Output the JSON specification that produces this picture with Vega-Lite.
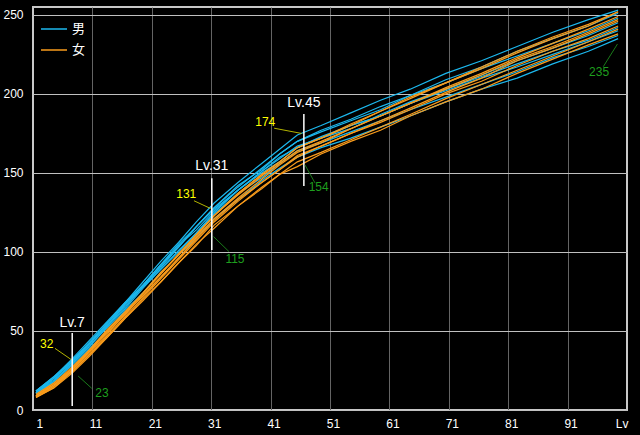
{
  "$schema": "https://vega.github.io/schema/vega-lite/v6.json",
  "width": 594,
  "height": 403,
  "autosize": {"type": "none"},
  "padding": {"left": 33, "top": 7, "right": 13, "bottom": 25},
  "background": "#000000",
  "config": {
    "view": {"stroke": "#c8c8c8", "strokeWidth": 2},
    "font": "Liberation Sans",
    "axis": {"domain": false, "ticks": false, "labelColor": "#ffffff", "labelFontSize": 12, "title": null}
  },
  "datasets": {
    "male": [
      {"lv": 1, "c1": 12, "c2": 12, "c3": 11, "c4": 12, "c5": 11, "c6": 11, "c7": 10, "c8": 11},
      {"lv": 4, "c1": 21, "c2": 20, "c3": 20, "c4": 21, "c5": 18, "c6": 19, "c7": 18, "c8": 20},
      {"lv": 7, "c1": 32, "c2": 31, "c3": 30, "c4": 31, "c5": 29, "c6": 29, "c7": 28, "c8": 30},
      {"lv": 10, "c1": 44, "c2": 42, "c3": 42, "c4": 43, "c5": 41, "c6": 40, "c7": 39, "c8": 42},
      {"lv": 13, "c1": 56, "c2": 55, "c3": 53, "c4": 55, "c5": 52, "c6": 53, "c7": 50, "c8": 54},
      {"lv": 16, "c1": 68, "c2": 67, "c3": 67, "c4": 68, "c5": 64, "c6": 65, "c7": 63, "c8": 66},
      {"lv": 19, "c1": 81, "c2": 79, "c3": 79, "c4": 79, "c5": 77, "c6": 78, "c7": 74, "c8": 78},
      {"lv": 22, "c1": 94, "c2": 92, "c3": 92, "c4": 90, "c5": 89, "c6": 89, "c7": 87, "c8": 91},
      {"lv": 25, "c1": 106, "c2": 105, "c3": 103, "c4": 103, "c5": 101, "c6": 100, "c7": 98, "c8": 104},
      {"lv": 28, "c1": 119, "c2": 116, "c3": 116, "c4": 116, "c5": 112, "c6": 112, "c7": 109, "c8": 114},
      {"lv": 31, "c1": 131, "c2": 128, "c3": 128, "c4": 127, "c5": 125, "c6": 124, "c7": 121, "c8": 126},
      {"lv": 35, "c1": 144, "c2": 141, "c3": 142, "c4": 139, "c5": 139, "c6": 137, "c7": 133, "c8": 139},
      {"lv": 39, "c1": 156, "c2": 153, "c3": 152, "c4": 151, "c5": 150, "c6": 147, "c7": 145, "c8": 151},
      {"lv": 42, "c1": 165, "c2": 162, "c3": 162, "c4": 159, "c5": 157, "c6": 156, "c7": 153, "c8": 160},
      {"lv": 45, "c1": 174, "c2": 170, "c3": 170, "c4": 167, "c5": 166, "c6": 164, "c7": 160, "c8": 166},
      {"lv": 49, "c1": 180, "c2": 176, "c3": 177, "c4": 172, "c5": 172, "c6": 169, "c7": 166, "c8": 173},
      {"lv": 54, "c1": 188, "c2": 183, "c3": 184, "c4": 180, "c5": 178, "c6": 176, "c7": 172, "c8": 180},
      {"lv": 59, "c1": 196, "c2": 190, "c3": 192, "c4": 186, "c5": 187, "c6": 183, "c7": 179, "c8": 186},
      {"lv": 64, "c1": 203, "c2": 199, "c3": 199, "c4": 194, "c5": 195, "c6": 190, "c7": 186, "c8": 194},
      {"lv": 70, "c1": 213, "c2": 207, "c3": 209, "c4": 202, "c5": 203, "c6": 198, "c7": 195, "c8": 203},
      {"lv": 76, "c1": 221, "c2": 216, "c3": 217, "c4": 210, "c5": 212, "c6": 206, "c7": 203, "c8": 211},
      {"lv": 82, "c1": 230, "c2": 224, "c3": 227, "c4": 217, "c5": 221, "c6": 214, "c7": 210, "c8": 219},
      {"lv": 88, "c1": 239, "c2": 232, "c3": 235, "c4": 225, "c5": 229, "c6": 223, "c7": 219, "c8": 227},
      {"lv": 94, "c1": 247, "c2": 240, "c3": 243, "c4": 233, "c5": 237, "c6": 230, "c7": 227, "c8": 234},
      {"lv": 99, "c1": 253, "c2": 248, "c3": 251, "c4": 240, "c5": 245, "c6": 237, "c7": 235, "c8": 242}
    ],
    "female": [
      {"lv": 1, "o1": 9, "o2": 9, "o3": 8, "o4": 8, "o5": 9, "o6": 10, "o7": 8, "o8": 9},
      {"lv": 4, "o1": 17, "o2": 15, "o3": 15, "o4": 14, "o5": 16, "o6": 17, "o7": 14, "o8": 16},
      {"lv": 7, "o1": 26, "o2": 25, "o3": 24, "o4": 23, "o5": 25, "o6": 27, "o7": 24, "o8": 26},
      {"lv": 10, "o1": 38, "o2": 36, "o3": 35, "o4": 34, "o5": 37, "o6": 38, "o7": 35, "o8": 37},
      {"lv": 13, "o1": 50, "o2": 48, "o3": 47, "o4": 46, "o5": 49, "o6": 51, "o7": 46, "o8": 50},
      {"lv": 16, "o1": 62, "o2": 61, "o3": 59, "o4": 58, "o5": 60, "o6": 62, "o7": 58, "o8": 61},
      {"lv": 19, "o1": 74, "o2": 72, "o3": 71, "o4": 69, "o5": 73, "o6": 74, "o7": 70, "o8": 74},
      {"lv": 22, "o1": 86, "o2": 84, "o3": 83, "o4": 81, "o5": 84, "o6": 87, "o7": 81, "o8": 86},
      {"lv": 25, "o1": 99, "o2": 96, "o3": 95, "o4": 93, "o5": 96, "o6": 98, "o7": 93, "o8": 98},
      {"lv": 28, "o1": 111, "o2": 109, "o3": 107, "o4": 105, "o5": 108, "o6": 110, "o7": 104, "o8": 111},
      {"lv": 31, "o1": 123, "o2": 121, "o3": 119, "o4": 115, "o5": 120, "o6": 123, "o7": 117, "o8": 123},
      {"lv": 35, "o1": 137, "o2": 134, "o3": 132, "o4": 129, "o5": 133, "o6": 136, "o7": 129, "o8": 137},
      {"lv": 39, "o1": 149, "o2": 146, "o3": 144, "o4": 141, "o5": 144, "o6": 148, "o7": 140, "o8": 149},
      {"lv": 42, "o1": 157, "o2": 155, "o3": 152, "o4": 149, "o5": 152, "o6": 156, "o7": 149, "o8": 157},
      {"lv": 45, "o1": 166, "o2": 163, "o3": 160, "o4": 157, "o5": 161, "o6": 164, "o7": 154, "o8": 166},
      {"lv": 49, "o1": 172, "o2": 169, "o3": 167, "o4": 163, "o5": 167, "o6": 170, "o7": 162, "o8": 172},
      {"lv": 54, "o1": 180, "o2": 178, "o3": 175, "o4": 171, "o5": 175, "o6": 178, "o7": 170, "o8": 181},
      {"lv": 59, "o1": 189, "o2": 186, "o3": 183, "o4": 179, "o5": 182, "o6": 186, "o7": 177, "o8": 189},
      {"lv": 64, "o1": 197, "o2": 194, "o3": 191, "o4": 187, "o5": 190, "o6": 194, "o7": 186, "o8": 198},
      {"lv": 70, "o1": 207, "o2": 204, "o3": 201, "o4": 197, "o5": 200, "o6": 203, "o7": 195, "o8": 207},
      {"lv": 76, "o1": 216, "o2": 213, "o3": 210, "o4": 206, "o5": 208, "o6": 212, "o7": 203, "o8": 217},
      {"lv": 82, "o1": 226, "o2": 223, "o3": 221, "o4": 215, "o5": 218, "o6": 222, "o7": 213, "o8": 227},
      {"lv": 88, "o1": 235, "o2": 232, "o3": 229, "o4": 224, "o5": 227, "o6": 230, "o7": 222, "o8": 236},
      {"lv": 94, "o1": 243, "o2": 241, "o3": 238, "o4": 233, "o5": 235, "o6": 239, "o7": 231, "o8": 244},
      {"lv": 99, "o1": 252, "o2": 249, "o3": 246, "o4": 241, "o5": 243, "o6": 247, "o7": 238, "o8": 252}
    ],
    "marks": [
      {"lv": 7.1, "lo": 2.5, "hi": 48.7, "label": "Lv.7", "ly": 55.2},
      {"lv": 30.6, "lo": 101.2, "hi": 146.6, "label": "Lv.31", "ly": 154.4},
      {"lv": 46.1, "lo": 141.7, "hi": 187.3, "label": "Lv.45", "ly": 194.5}
    ],
    "notes": [
      {"kind": "max", "t": "32", "tx": 2.8, "ty": 41.8, "x0": 4.2, "y0": 39.0, "x1": 6.9, "y1": 32.0},
      {"kind": "max", "t": "131", "tx": 26.3, "ty": 136.7, "x0": 27.6, "y0": 132.4, "x1": 30.4, "y1": 127.5},
      {"kind": "max", "t": "174", "tx": 39.6, "ty": 182.2, "x0": 41.1, "y0": 178.3, "x1": 45.7, "y1": 175.0},
      {"kind": "min", "t": "23", "tx": 12.1, "ty": 10.8, "x0": 8.1, "y0": 21.5, "x1": 10.4, "y1": 13.7},
      {"kind": "min", "t": "115", "tx": 34.5, "ty": 95.6, "x0": 30.9, "y0": 109.7, "x1": 33.5, "y1": 100.2},
      {"kind": "min", "t": "154", "tx": 48.6, "ty": 140.9, "x0": 46.3, "y0": 155.0, "x1": 48.0, "y1": 143.5},
      {"kind": "min", "t": "235", "tx": 95.8, "ty": 213.9, "x0": 98.9, "y0": 231.6, "x1": 96.5, "y1": 217.2}
    ]
  },
  "layer": [
    {
      "data": {"name": "male"},
      "transform": [{"fold": ["c1", "c2", "c3", "c4", "c5", "c6", "c7", "c8"], "as": ["id", "v"]}],
      "mark": {"type": "line", "strokeWidth": 1.2},
      "encoding": {
        "x": {
          "field": "lv", "type": "quantitative",
          "scale": {"domain": [0.5, 100.5], "nice": false, "zero": false},
          "axis": {
            "values": [0.5, 10.5, 20.5, 30.5, 40.5, 50.5, 60.5, 70.5, 80.5, 90.5, 99.1],
            "labelExpr": "datum.value > 95 ? 'Lv' : format(datum.value + 0.5, 'd')",
            "labelOffset": 3,
            "labelPadding": 8,
            "grid": true,
            "gridColor": {"condition": {"test": "datum.value < 1 || datum.value > 95", "value": "transparent"}, "value": "#646464"},
            "gridWidth": 1,
            "title": null
          }
        },
        "y": {
          "field": "v", "type": "quantitative",
          "scale": {"domain": [0, 255], "nice": false},
          "axis": {
            "values": [0, 50, 100, 150, 200, 250],
            "labelPadding": 10,
            "grid": true,
            "gridColor": "#c0c0c0",
            "gridWidth": 1,
            "title": null
          }
        },
        "color": {
          "datum": "男",
          "scale": {"domain": ["男", "女"], "range": ["#1cb8ee", "#fa9c1c"]},
          "legend": {
            "orient": "none", "legendX": 7, "legendY": 8, "title": null,
            "labelColor": "#ffffff", "labelFont": "Noto Sans CJK JP", "labelFontSize": 13,
            "symbolType": "stroke", "symbolSize": 676, "symbolStrokeWidth": 1.5,
            "rowPadding": -5, "labelOffset": 4, "padding": 0
          }
        },
        "detail": {"field": "id"}
      }
    },
    {
      "data": {"name": "female"},
      "transform": [{"fold": ["o1", "o2", "o3", "o4", "o5", "o6", "o7", "o8"], "as": ["id", "v"]}],
      "mark": {"type": "line", "strokeWidth": 1.2},
      "encoding": {
        "x": {"field": "lv", "type": "quantitative"},
        "y": {"field": "v", "type": "quantitative"},
        "color": {"datum": "女"},
        "detail": {"field": "id"}
      }
    },
    {
      "data": {"name": "marks"},
      "mark": {"type": "rule", "color": "#ffffff", "strokeWidth": 1.5},
      "encoding": {
        "x": {"field": "lv", "type": "quantitative"},
        "y": {"field": "lo", "type": "quantitative"},
        "y2": {"field": "hi"}
      }
    },
    {
      "data": {"name": "marks"},
      "mark": {"type": "text", "color": "#ffffff", "fontSize": 14, "align": "center", "baseline": "middle", "font": "Liberation Sans"},
      "encoding": {
        "x": {"field": "lv", "type": "quantitative"},
        "y": {"field": "ly", "type": "quantitative"},
        "text": {"field": "label"}
      }
    },
    {
      "data": {"name": "notes"},
      "mark": {"type": "rule", "strokeWidth": 1},
      "encoding": {
        "x": {"field": "x0", "type": "quantitative"},
        "x2": {"field": "x1"},
        "y": {"field": "y0", "type": "quantitative"},
        "y2": {"field": "y1"},
        "color": {"condition": {"test": "datum.kind === 'max'", "value": "#b4b400"}, "value": "#1a7a1a"}
      }
    },
    {
      "data": {"name": "notes"},
      "mark": {"type": "text", "fontSize": 12, "align": "center", "baseline": "middle", "font": "Liberation Sans"},
      "encoding": {
        "x": {"field": "tx", "type": "quantitative"},
        "y": {"field": "ty", "type": "quantitative"},
        "text": {"field": "t"},
        "color": {"condition": {"test": "datum.kind === 'max'", "value": "#ffff00"}, "value": "#1e9e1e"}
      }
    }
  ]
}
